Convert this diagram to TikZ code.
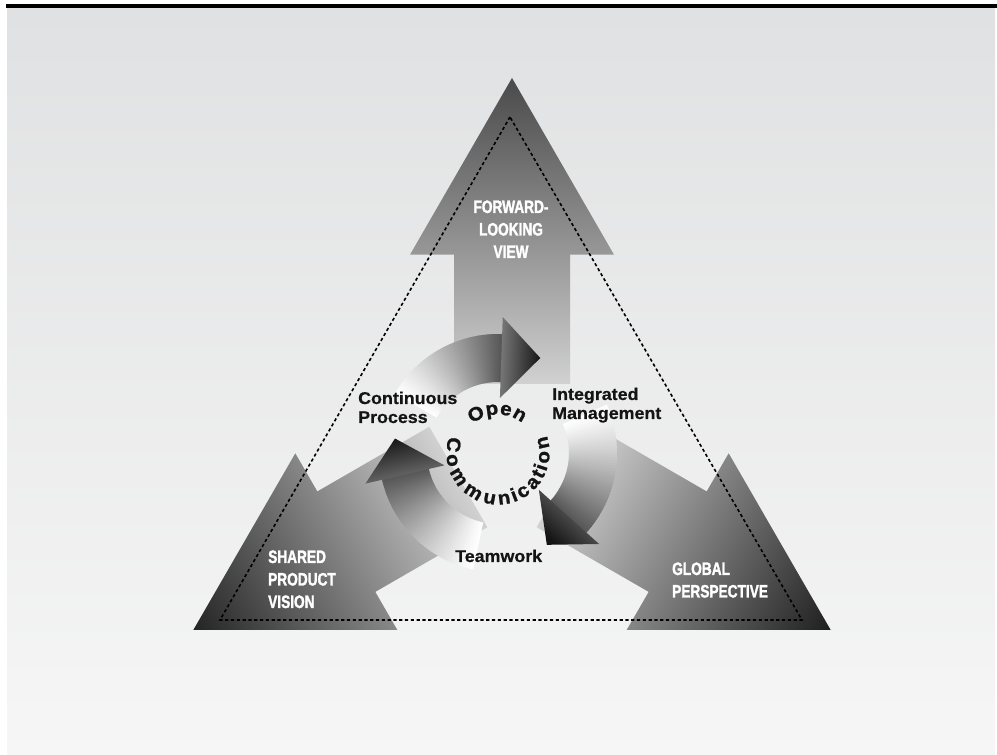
\documentclass[tikz,border=0pt]{standalone}
\usepackage{fontspec}
\setmainfont{Liberation Sans}
\newfontfamily\capfont{Liberation Sans}[FakeStretch=0.76, BoldFeatures={FakeBold=1.6}]
\newfontfamily\lblfont{Liberation Sans}[FakeStretch=1.05, BoldFeatures={FakeBold=0.5}]
\newfontfamily\ocfont{Liberation Sans}[FakeStretch=1.08, BoldFeatures={FakeBold=1.2}]
\newcommand\stackc[1]{\begin{tabular}[t]{@{}c@{}}#1\end{tabular}}
\newcommand\stackl[1]{\begin{tabular}[t]{@{}l@{}}#1\end{tabular}}
\definecolor{bgtop}{RGB}{224,225,226}
\definecolor{bgbot}{RGB}{246,246,246}
% curved arrow: #1 tail angle, #2 head base angle, #3 tip angle
\newcommand\ringarrow[3]{%
  \foreach \i in {0,...,47}{%
    \pgfmathsetmacro\aA{#1+(#2-#1)*\i/48}%
    \pgfmathsetmacro\aB{#1+(#2-#1)*(\i+1.4)/48}%
    \pgfmathsetmacro\pp{66*((\i+0.5)/48)^1.2}%
    \fill[black!\pp] (\aA:71) arc[start angle=\aA, end angle=\aB, radius=71]
      -- (\aB:119) arc[start angle=\aB, end angle=\aA, radius=119] -- cycle;
  }%
  \pgfmathsetmacro\sa{#2-180}%
  \shade[top color=black!92, bottom color=black!52, shading angle=\sa]
    (#2:55) -- (#3:104) -- (#2:136) -- cycle;
}
\begin{document}
\begin{tikzpicture}[x=1pt,y=1pt,
  capl/.style={font=\capfont\bfseries\fontsize{18}{22.5}\selectfont, text=white, inner sep=0pt},
  dkl/.style={font=\lblfont\bfseries\fontsize{17}{19}\selectfont, text=black!92, inner sep=0pt, anchor=base west},
  ocl/.style={font=\ocfont\bfseries\fontsize{19}{19}\selectfont, text=black!92, inner sep=0pt, anchor=base},
  dashtri/.style={draw=black, line width=1.6pt, dash pattern=on 3.2pt off 2.6pt},
]
\useasboundingbox (0,0) rectangle (997,755);
\fill[white] (0,0) rectangle (997,755);
\shade[top color=bgtop, bottom color=bgbot] (7,0) rectangle (995,747);
\fill[black] (6,747) rectangle (997,750.5);

% big arrows
\foreach \rot/\tc in {0/black!71, 120/black!86, -120/black!88}{
  \begin{scope}[transform canvas={shift={(512,309)}, rotate=\rot}]
    \shade[top color=\tc, middle color=black!46, bottom color=black!18]
      (-58,62) -- (-58,191.3) -- (-102,191.3) -- (0,368) -- (102,191.3)
      -- (58,191.3) -- (58,62) -- cycle;
  \end{scope}
}

% dashed triangle
\draw[dashtri] (510,638) -- (220,135) -- (802,135) -- cycle;

% curved arrows
\begin{scope}[shift={(498,302)}]
  \ringarrow{150}{88}{66}
  \ringarrow{24}{-42}{-62}
  \ringarrow{258}{193}{172}
  \foreach \ch/\ang [count=\k] in {O/119.5, p/98.0, e/79.5, n/60.5}
    \node[ocl, rotate=\ang-90] (op\k) at (\ang:38.5) {\ch};
  \foreach \ch/\ang [count=\k] in {C/169.5, o/189.2, m/211.3, m/237.5, u/259.6, n/277.7, i/290.8, c/303.1, a/319.5, t/332.6, i/341.6, o/354.7, n/372.7}
    \node[ocl, rotate=\ang+90] (cm\k) at (\ang:51.5) {\ch};
\end{scope}

% labels
\node[capl, anchor=base] (fwd) at (511,542) {\stackc{FORWARD-\\LOOKING\\VIEW}};
\node[capl, anchor=base west] (spv) at (268,192) {\stackl{SHARED\\PRODUCT\\VISION}};
\node[capl, anchor=base west] (gp) at (672,180) {\stackl{GLOBAL\\PERSPECTIVE}};
\node[dkl] (cp) at (358,351) {\stackl{Continuous\\Process}};
\node[dkl] (im) at (552,355) {\stackl{Integrated\\Management}};
\node[dkl] (tw) at (455,193) {Teamwork};
\end{tikzpicture}
\end{document}
